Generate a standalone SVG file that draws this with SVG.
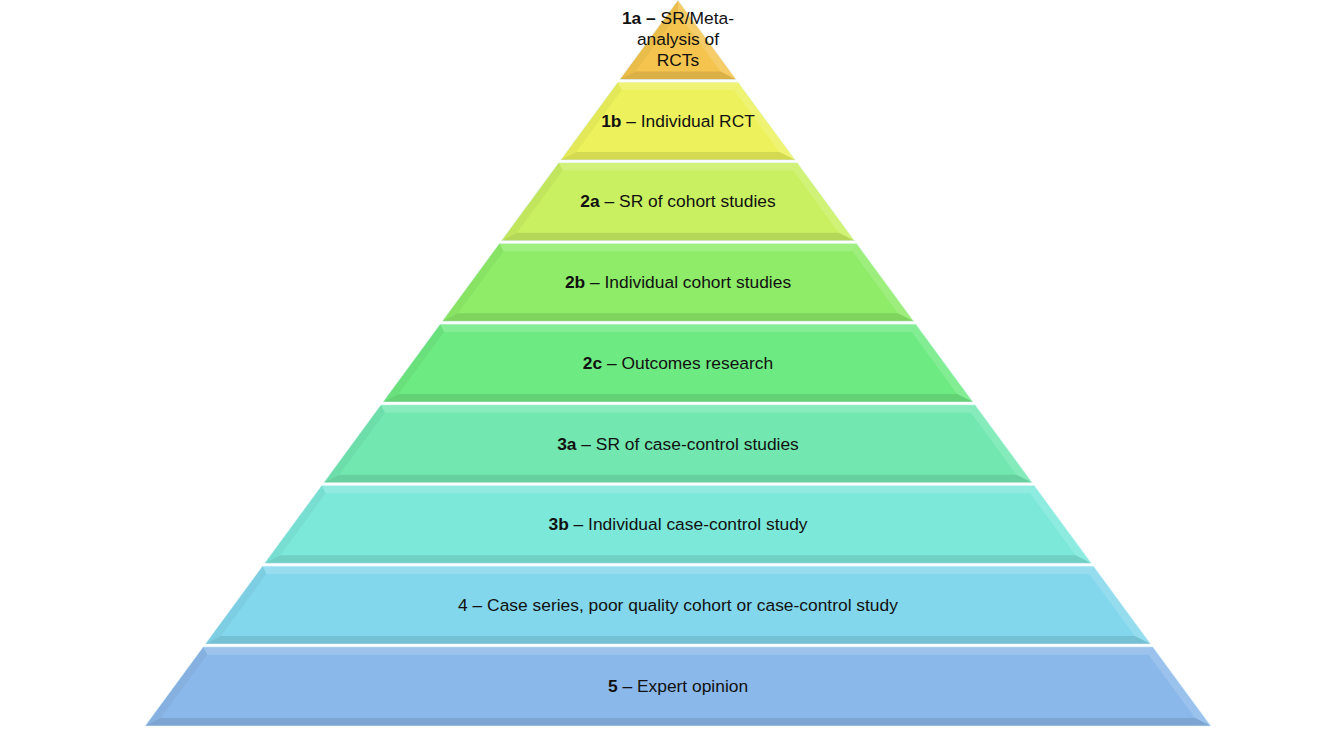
<svg xmlns="http://www.w3.org/2000/svg" width="1319" height="742" viewBox="0 0 1319 742">
<style>
.lbl{font-family:"Liberation Sans",Arial,sans-serif;font-size:17.4px;fill:#111;text-anchor:middle}
.b{font-weight:bold}
.out{stroke:#e8fbff;stroke-opacity:.7;stroke-width:1}
.ft{fill:#fff;fill-opacity:.16}
.fb{fill:#000;fill-opacity:.1}
.fl{fill:#000;fill-opacity:.04}
.fr{fill:#fff;fill-opacity:.14}
</style>
<rect width="1319" height="742" fill="#fff"/>
<g id="layer-1a">
<polygon class="out" fill="#F4C44E" points="678,0 736.37,79.5 619.63,79.5"/>
<polygon class="fb" points="635.5,71.5 720.5,71.5 736.37,79.5 619.63,79.5"/>
<polygon class="fl" points="678,0 678,13.6 635.5,71.5 619.63,79.5"/>
<polygon class="fr" points="678,0 736.37,79.5 720.5,71.5 678,13.6"/>
<text class="lbl" x="678" y="24"><tspan class="b">1a –</tspan> SR/Meta-</text>
<text class="lbl" x="678" y="45">analysis of</text>
<text class="lbl" x="678" y="66">RCTs</text>
</g>
<g id="layer-1b">
<polygon class="out" fill="#EDF25C" points="617.8,82 738.2,82 795.47,160 560.53,160"/>
<polygon class="ft" points="617.8,82 738.2,82 734.08,90 621.92,90"/>
<polygon class="fb" points="576.4,152 779.6,152 795.47,160 560.53,160"/>
<polygon class="fl" points="617.8,82 621.92,90 576.4,152 560.53,160"/>
<polygon class="fr" points="738.2,82 795.47,160 779.6,152 734.08,90"/>
<text class="lbl" x="678" y="127"><tspan class="b">1b</tspan> – Individual RCT</text>
</g>
<g id="layer-2a">
<polygon class="out" fill="#C9F061" points="558.69,162.5 797.31,162.5 854.72,240.7 501.28,240.7"/>
<polygon class="ft" points="558.69,162.5 797.31,162.5 793.18,170.5 562.82,170.5"/>
<polygon class="fb" points="517.15,232.7 838.85,232.7 854.72,240.7 501.28,240.7"/>
<polygon class="fl" points="558.69,162.5 562.82,170.5 517.15,232.7 501.28,240.7"/>
<polygon class="fr" points="797.31,162.5 854.72,240.7 838.85,232.7 793.18,170.5"/>
<text class="lbl" x="678" y="207"><tspan class="b">2a</tspan> – SR of cohort studies</text>
</g>
<g id="layer-2b">
<polygon class="out" fill="#8EEC69" points="499.37,243.3 856.63,243.3 913.9,321.3 442.1,321.3"/>
<polygon class="ft" points="499.37,243.3 856.63,243.3 852.5,251.3 503.5,251.3"/>
<polygon class="fb" points="457.97,313.3 898.03,313.3 913.9,321.3 442.1,321.3"/>
<polygon class="fl" points="499.37,243.3 503.5,251.3 457.97,313.3 442.1,321.3"/>
<polygon class="fr" points="856.63,243.3 913.9,321.3 898.03,313.3 852.5,251.3"/>
<text class="lbl" x="678" y="288"><tspan class="b">2b</tspan> – Individual cohort studies</text>
</g>
<g id="layer-2c">
<polygon class="out" fill="#6EEA82" points="440.12,324 915.88,324 973.15,402 382.85,402"/>
<polygon class="ft" points="440.12,324 915.88,324 911.75,332 444.25,332"/>
<polygon class="fb" points="398.73,394 957.27,394 973.15,402 382.85,402"/>
<polygon class="fl" points="440.12,324 444.25,332 398.73,394 382.85,402"/>
<polygon class="fr" points="915.88,324 973.15,402 957.27,394 911.75,332"/>
<text class="lbl" x="678" y="369"><tspan class="b">2c</tspan> – Outcomes research</text>
</g>
<g id="layer-3a">
<polygon class="out" fill="#72E8B0" points="380.87,404.7 975.13,404.7 1032.4,482.7 323.6,482.7"/>
<polygon class="ft" points="380.87,404.7 975.13,404.7 971,412.7 385,412.7"/>
<polygon class="fb" points="339.48,474.7 1016.52,474.7 1032.4,482.7 323.6,482.7"/>
<polygon class="fl" points="380.87,404.7 385,412.7 339.48,474.7 323.6,482.7"/>
<polygon class="fr" points="975.13,404.7 1032.4,482.7 1016.52,474.7 971,412.7"/>
<text class="lbl" x="678" y="450"><tspan class="b">3a</tspan> – SR of case-control studies</text>
</g>
<g id="layer-3b">
<polygon class="out" fill="#7CE8DA" points="321.69,485.3 1034.31,485.3 1091.58,563.3 264.42,563.3"/>
<polygon class="ft" points="321.69,485.3 1034.31,485.3 1030.18,493.3 325.82,493.3"/>
<polygon class="fb" points="280.3,555.3 1075.7,555.3 1091.58,563.3 264.42,563.3"/>
<polygon class="fl" points="321.69,485.3 325.82,493.3 280.3,555.3 264.42,563.3"/>
<polygon class="fr" points="1034.31,485.3 1091.58,563.3 1075.7,555.3 1030.18,493.3"/>
<text class="lbl" x="678" y="530"><tspan class="b">3b</tspan> – Individual case-control study</text>
</g>
<g id="layer-4">
<polygon class="out" fill="#83D7EC" points="262.44,566 1093.56,566 1150.82,644 205.18,644"/>
<polygon class="ft" points="262.44,566 1093.56,566 1089.43,574 266.57,574"/>
<polygon class="fb" points="221.05,636 1134.95,636 1150.82,644 205.18,644"/>
<polygon class="fl" points="262.44,566 266.57,574 221.05,636 205.18,644"/>
<polygon class="fr" points="1093.56,566 1150.82,644 1134.95,636 1089.43,574"/>
<text class="lbl" x="678" y="611">4 – Case series, poor quality cohort or case-control study</text>
</g>
<g id="layer-5">
<polygon class="out" fill="#8BB8EA" points="203.19,646.7 1152.81,646.7 1211.03,726 144.97,726"/>
<polygon class="ft" points="203.19,646.7 1152.81,646.7 1148.68,654.7 207.32,654.7"/>
<polygon class="fb" points="160.84,718 1195.16,718 1211.03,726 144.97,726"/>
<polygon class="fl" points="203.19,646.7 207.32,654.7 160.84,718 144.97,726"/>
<polygon class="fr" points="1152.81,646.7 1211.03,726 1195.16,718 1148.68,654.7"/>
<text class="lbl" x="678" y="692"><tspan class="b">5</tspan> – Expert opinion</text>
</g>
</svg>
